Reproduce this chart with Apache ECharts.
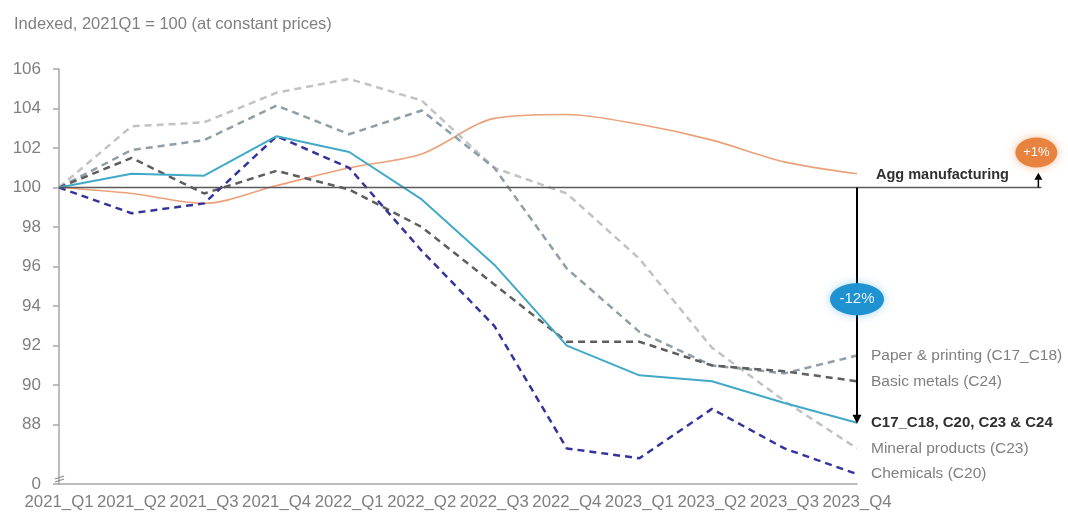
<!DOCTYPE html>
<html><head><meta charset="utf-8">
<script src="https://cdn.jsdelivr.net/npm/echarts@6/dist/echarts.min.js"></script>
<style>html,body{margin:0;padding:0;background:#fff}#c{width:1068px;height:515px}</style>
</head><body><div id="c"></div>
<script>
// ---- data ----
const categories = ['2021_Q1','2021_Q2','2021_Q3','2021_Q4','2022_Q1','2022_Q2','2022_Q3','2022_Q4','2023_Q1','2023_Q2','2023_Q3','2023_Q4'];
const aggManufacturing = [100, 99.7, 99.2, 100.1, 101.0, 101.7, 103.5, 103.7, 103.2, 102.4, 101.3, 100.7];
const mineralProducts  = [100, 103.1, 103.3, 104.8, 105.5, 104.4, 101.0, 99.7, 96.4, 91.9, 89.2, 86.8];
const paperPrinting    = [100, 101.9, 102.4, 104.15, 102.7, 103.9, 101.0, 95.9, 92.7, 91.0, 90.6, 91.5];
const basicMetals      = [100, 101.5, 99.7, 100.85, 99.9, 98.0, 95.1, 92.2, 92.2, 91.0, 90.7, 90.2];
const chemicals        = [100, 98.7, 99.2, 102.6, 101.0, 96.8, 93.0, 86.8, 86.3, 88.8, 86.8, 85.5];
const aggregateGroup   = [100, 100.7, 100.6, 102.6, 101.8, 99.4, 96.1, 92.0, 90.5, 90.2, 89.1, 88.1];
const yTickValues = [85, 88, 90, 92, 94, 96, 98, 100, 102, 104, 106];
const brokenAxisLabel = '0';
const baseValue = 100;
const title = 'Indexed, 2021Q1 = 100 (at constant prices)';
const aggLabel = 'Agg manufacturing';
const changeAgg = '+1%';
const changeGroup = '-12%';

const FONT = '"Liberation Sans", Arial, sans-serif';
const chart = echarts.init(document.getElementById('c'), null, {renderer: 'canvas'});

function lineSeries(name, data, color, width, type, opts) {
  opts = opts || {};
  return {
    name, type: 'line', data, symbol: 'none', smooth: opts.smooth || false,
    z: opts.z || 3,
    lineStyle: {color, width, type},
    endLabel: opts.label === false ? {show: false} : {
      show: true, formatter: name, distance: 14,
      color: opts.bold ? '#303030' : '#7f7f7f',
      fontWeight: opts.bold ? 'bold' : 'normal',
      fontFamily: FONT, fontSize: opts.bold ? 15 : 15.5
    },
    emphasis: {disabled: true}
  };
}

chart.setOption({
  animation: false,
  title: {text: title, left: 9, top: 11, textStyle: {fontFamily: FONT, fontSize: 16.5, fontWeight: 'normal', color: '#7f7f7f'}},
  grid: {left: 59, right: 211, top: 69, bottom: 31, containLabel: false},
  xAxis: {
    type: 'category', data: categories, boundaryGap: false,
    axisLine: {lineStyle: {color: '#a6a6a6', width: 1.5}},
    axisTick: {show: false},
    axisLabel: {interval: 0, color: '#7f7f7f', fontFamily: FONT, fontSize: 16.8, margin: 10},
    splitLine: {show: false}
  },
  yAxis: {
    type: 'value', min: 85, max: 106,
    axisLine: {show: true, lineStyle: {color: '#a6a6a6', width: 1.5}},
    axisTick: {show: true, inside: false, length: 6, customValues: yTickValues, lineStyle: {color: '#a6a6a6', width: 1.5}},
    axisLabel: {customValues: yTickValues, color: '#7f7f7f', fontFamily: FONT, fontSize: 17, margin: 18,
      formatter: v => (v === 85 ? brokenAxisLabel : String(v))},
    splitLine: {show: false}
  },
  series: [
    lineSeries(aggLabel, aggManufacturing, '#ECA07A', 1.6, 'solid', {smooth: 0.3, label: false, z: 2}),
    lineSeries('Mineral products (C23)', mineralProducts, '#C2C2C2', 2.5, [7, 5]),
    lineSeries('Paper & printing (C17_C18)', paperPrinting, '#8E9FA8', 2.5, [7, 5]),
    lineSeries('Basic metals (C24)', basicMetals, '#5E5E5E', 2.5, [7, 5]),
    lineSeries('Chemicals (C20)', chemicals, '#33339C', 2.5, [7, 5]),
    lineSeries('C17_C18, C20, C23 & C24', aggregateGroup, '#41A9C6', 2, 'solid', {bold: true, z: 4})
  ]
});

// ---- annotations positioned through the chart's own scales ----
const px = (i, v) => chart.convertToPixel({xAxisIndex: 0, yAxisIndex: 0}, [i, v]);
const last = categories.length - 1;
const p0 = px(0, baseValue);
const pEnd = px(last, baseValue);
const step = px(1, baseValue)[0] - p0[0];
const y100 = p0[1];
const xAggArrow = pEnd[0] + step * 2.5;
const yAggEnd = px(last, aggManufacturing[last])[1];
const yGroupEnd = px(last, aggregateGroup[last])[1];
const yAxisBottom = px(0, 85)[1];

const g = [];
// base line at 100, extending past the plot
g.push({type: 'line', shape: {x1: p0[0], y1: y100, x2: xAggArrow + 3, y2: y100}, style: {stroke: '#595959', lineWidth: 1.5}, z: 10});
// Agg manufacturing label
g.push({type: 'text', x: pEnd[0] + 19, y: y100 - 13, style: {text: aggLabel, fill: '#303030', font: 'bold 14.5px ' + FONT, verticalAlign: 'middle'}, z: 10});
// up arrow (+1%)
g.push({type: 'line', shape: {x1: xAggArrow, y1: y100, x2: xAggArrow, y2: yAggEnd + 4}, style: {stroke: '#000', lineWidth: 1.5}, z: 10});
g.push({type: 'polygon', shape: {points: [[xAggArrow, yAggEnd - 1], [xAggArrow - 4, yAggEnd + 6], [xAggArrow + 4, yAggEnd + 6]]}, style: {fill: '#000'}, z: 10});
// down arrow (-12%)
g.push({type: 'line', shape: {x1: pEnd[0], y1: y100, x2: pEnd[0], y2: yGroupEnd - 6}, style: {stroke: '#000', lineWidth: 2}, z: 10});
g.push({type: 'polygon', shape: {points: [[pEnd[0], yGroupEnd + 1], [pEnd[0] - 4.5, yGroupEnd - 8], [pEnd[0] + 4.5, yGroupEnd - 8]]}, style: {fill: '#000'}, z: 10});
// bubbles
g.push({type: 'ellipse', shape: {cx: xAggArrow - 2, cy: y100 - 35, rx: 21, ry: 15}, style: {fill: '#E8833F', shadowBlur: 10, shadowColor: 'rgba(240,150,90,0.6)'}, z: 11});
g.push({type: 'text', x: xAggArrow - 2, y: y100 - 35, style: {text: changeAgg, fill: '#fff', font: '13px ' + FONT, align: 'center', verticalAlign: 'middle'}, z: 12});
const yMid = (y100 + yGroupEnd) / 2 - 6;
g.push({type: 'ellipse', shape: {cx: pEnd[0], cy: yMid, rx: 27, ry: 16}, style: {fill: '#1F93D1', shadowBlur: 10, shadowColor: 'rgba(80,170,230,0.5)'}, z: 11});
g.push({type: 'text', x: pEnd[0], y: yMid, style: {text: changeGroup, fill: '#e8f4ff', font: '15px ' + FONT, align: 'center', verticalAlign: 'middle'}, z: 12});
// axis break mark
g.push({type: 'line', shape: {x1: p0[0] - 4, y1: yAxisBottom - 5, x2: p0[0] + 5, y2: yAxisBottom - 8}, style: {stroke: '#8a8a8a', lineWidth: 1.2}, z: 10});
g.push({type: 'line', shape: {x1: p0[0] - 4, y1: yAxisBottom - 2, x2: p0[0] + 5, y2: yAxisBottom - 5}, style: {stroke: '#8a8a8a', lineWidth: 1.2}, z: 10});

chart.setOption({graphic: g});
</script>
</body></html>
